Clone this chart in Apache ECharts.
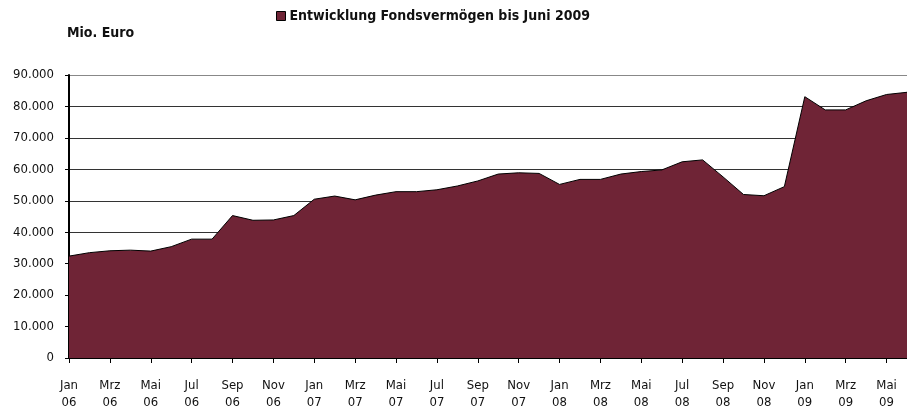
<!DOCTYPE html>
<html>
<head>
<meta charset="utf-8">
<script src="https://cdn.jsdelivr.net/npm/echarts@6/dist/echarts.min.js"></script>
<style>
  html, body { margin: 0; padding: 0; background: #fff; }
  #chart { width: 907px; height: 412px; }
</style>
</head>
<body>
<div id="chart"></div>
<script>
// Monatsnamen und Jahre für die Kategorieachse
const monthNames = ['Jan', 'Feb', 'Mrz', 'Apr', 'Mai', 'Jun', 'Jul', 'Aug', 'Sep', 'Okt', 'Nov', 'Dez']
const years = ['06', '07', '08', '09']
const monthCount = 42 // Jan 06 bis Jun 09

// Fondsvermögen in Mio. Euro
const fundValues = [
  32400, 33500, 34100, 34300, 34000, 35400, 37800, 37800, 45300, 43800, 43900, 45300,
  50500, 51500, 50300, 51800, 52900, 52900, 53500, 54700, 56300, 58500, 58900, 58700,
  55200, 56800, 56800, 58500, 59300, 59800, 62400, 63000, 57600, 52000, 51600, 54500,
  83100, 78900, 78900, 81800, 83800, 84500
]

const yTicks = { min: 0, max: 90000, step: 10000 }
const seriesName = 'Entwicklung Fondsvermögen bis Juni 2009'

const categories = []
for (let i = 0; i < monthCount; i++) {
  categories.push(monthNames[i % 12] + '\n' + years[Math.floor(i / 12)])
}

const font = 'DejaVu Sans Condensed'

const chart = echarts.init(document.getElementById('chart'))
chart.setOption({
  animation: false,
  textStyle: { fontFamily: font, color: '#111' },
  title: {
    text: 'Mio. Euro',
    left: 62,
    top: 21,
    textStyle: { fontFamily: font, fontSize: 14, fontWeight: 'bold', color: '#111' }
  },
  legend: {
    data: [seriesName],
    left: 271,
    top: 4,
    icon: 'rect',
    itemWidth: 9,
    itemHeight: 9,
    itemGap: 4,
    itemStyle: { borderColor: '#000', borderWidth: 1 },
    textStyle: { fontFamily: font, fontSize: 14, fontWeight: 'bold', color: '#111', padding: [0, 0, 0, -1] }
  },
  grid: {
    left: 69,
    right: -2,
    top: 75,
    bottom: 54
  },
  xAxis: {
    type: 'category',
    data: categories,
    boundaryGap: false,
    axisLine: { lineStyle: { color: '#000', width: 2 } },
    axisTick: { interval: 1, length: 5, lineStyle: { color: '#000' } },
    axisLabel: {
      interval: 1,
      margin: 19,
      fontFamily: font,
      fontSize: 13,
      lineHeight: 17,
      color: '#111'
    },
    splitLine: { show: false }
  },
  yAxis: {
    type: 'value',
    min: yTicks.min,
    max: yTicks.max,
    interval: yTicks.step,
    axisLine: { show: true, lineStyle: { color: '#000', width: 2 } },
    axisTick: { show: true, length: 4, lineStyle: { color: '#000' } },
    axisLabel: {
      margin: 15,
      fontFamily: font,
      fontSize: 13,
      color: '#111',
      formatter: v => v === 0 ? '0' : (v / 1000) + '.000'
    },
    splitLine: {
      lineStyle: {
        color: ['#333', '#333', '#333', '#333', '#333', '#333', '#333', '#333', '#333', '#888'],
        width: 1
      }
    }
  },
  series: [
    {
      name: seriesName,
      type: 'line',
      data: fundValues,
      symbol: 'none',
      itemStyle: { color: '#6F2436' },
      lineStyle: { color: '#000', width: 1 },
      areaStyle: { color: '#6F2436', opacity: 1 }
    }
  ]
})
</script>
</body>
</html>
